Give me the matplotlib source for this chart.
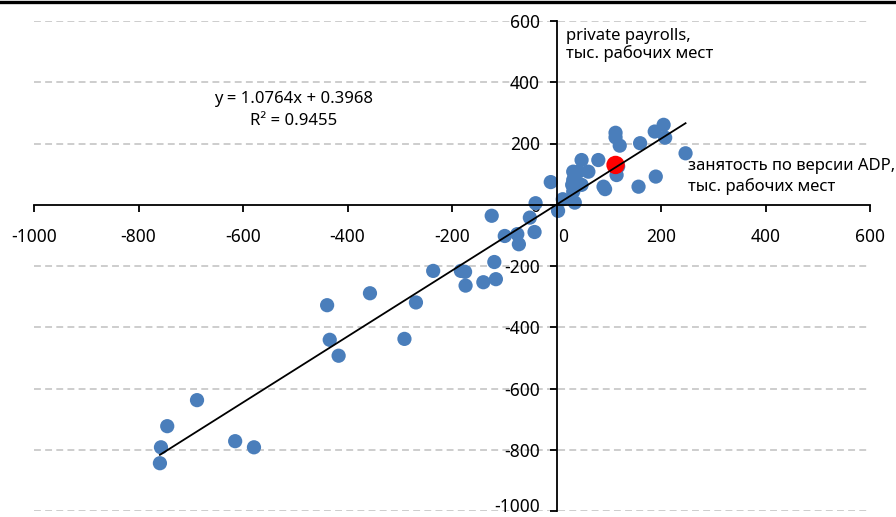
import matplotlib
matplotlib.use("Agg")
import matplotlib.pyplot as plt
from matplotlib.lines import Line2D
import matplotlib.transforms as mtransforms
import numpy as np

plt.rcParams['font.family'] = ['Noto Sans', 'DejaVu Sans']

# ADP employment change (x) vs private payrolls change (y), thousands of jobs
adp_x = [-759, -757, -745, -688, -615, -579,
         -439, -434, -417, -357, -291, -269, -236,
         -183, -175, -174, -140, -119, -116,
         -124, -99, -75, -72, -51, -42, -40,
         -11, 3, 12, 35, 32, 30, 35, 48, 32, 32, 42, 61, 48, 80, 90, 93,
         113, 113, 121, 118, 115, 157, 160, 188, 190, 205, 208, 247]
payrolls_y = [-844, -792, -723, -638, -772, -792,
              -328, -441, -493, -289, -438, -319, -216,
              -216, -219, -264, -253, -187, -243,
              -36, -102, -96, -129, -42, -89, 5,
              74, -20, 18, 7, 43, 65, 65, 65, 81, 108, 108, 108, 146, 146, 59, 51,
              235, 220, 193, 125, 97, 59, 201, 239, 92, 261, 219, 168]
latest_x = [113]
latest_y = [130]

slope = 1.0764
intercept = 0.3968
r2 = 0.9455

x_ticks = [-1000, -800, -600, -400, -200, 0, 200, 400, 600]
y_ticks = [-1000, -800, -600, -400, -200, 0, 200, 400, 600]

fig = plt.figure(figsize=(8.96, 5.17), dpi=100)
ax = fig.add_axes([34/896, 1-511/517, (870-34)/896, (511-21)/517])

ax.set_xlim(-1000, 600)
ax.set_ylim(-1000, 600)

# grid
for yv in y_ticks:
    if yv != 0:
        ax.axhline(yv, color='#c0c0c0', lw=1.1, dashes=(4.5, 2.8), zorder=0)

ax.scatter(adp_x, payrolls_y, s=105, color='#4a7ebb', edgecolors='none', zorder=3)
ax.scatter(latest_x, latest_y, s=175, color='#ff0000', edgecolors='none', zorder=4)

xl = np.array([min(adp_x), max(adp_x)])
ax.plot(xl, slope * xl + intercept, color='black', lw=1.3, zorder=5)

for s in ['top', 'right']:
    ax.spines[s].set_visible(False)
ax.spines['left'].set_position(('data', 0))
ax.spines['bottom'].set_position(('data', 0))
ax.spines['left'].set_linewidth(1.3)
ax.spines['bottom'].set_linewidth(1.3)
ax.spines['left'].set_zorder(6)
ax.spines['bottom'].set_zorder(6)

ax.set_xticks(x_ticks)
ax.set_yticks(y_ticks)
ax.set_xticklabels([str(v) for v in x_ticks])
ax.set_yticklabels([str(v) for v in y_ticks])
ax.tick_params(axis='x', direction='out', length=5, width=1.3, labelsize=12.5, pad=12)
ax.tick_params(axis='y', direction='out', length=5, width=1.3, labelsize=12.5, pad=7)

# small offsets for individual labels, as in the reference
for lab, v in zip(ax.get_xticklabels(), x_ticks):
    if v == 0:
        lab.set_transform(lab.get_transform() + mtransforms.ScaledTranslation(7/100, 0, fig.dpi_scale_trans))
for lab, v in zip(ax.get_yticklabels(), y_ticks):
    if v == -1000:
        lab.set_transform(lab.get_transform() + mtransforms.ScaledTranslation(0, 6/100, fig.dpi_scale_trans))

ax.text(-504, 345, f"y = {slope}x + {intercept}", ha='center', va='center', fontsize=12)
ax.text(-504, 272, f"R² = {r2}", ha='center', va='center', fontsize=12)

ax.text(18, 552, "private payrolls,", ha='left', va='center', fontsize=12)
ax.text(18, 494, "тыс. рабочих мест", ha='left', va='center', fontsize=12)
ax.text(252, 127, "занятость по версии ADP,", ha='left', va='center', fontsize=12, clip_on=False)
ax.text(252, 60, "тыс. рабочих мест", ha='left', va='center', fontsize=12)

fig.add_artist(Line2D([0, 1], [1-1.5/517, 1-1.5/517], color='black', lw=2.4, transform=fig.transFigure))

fig.savefig("out.png", dpi=100)
